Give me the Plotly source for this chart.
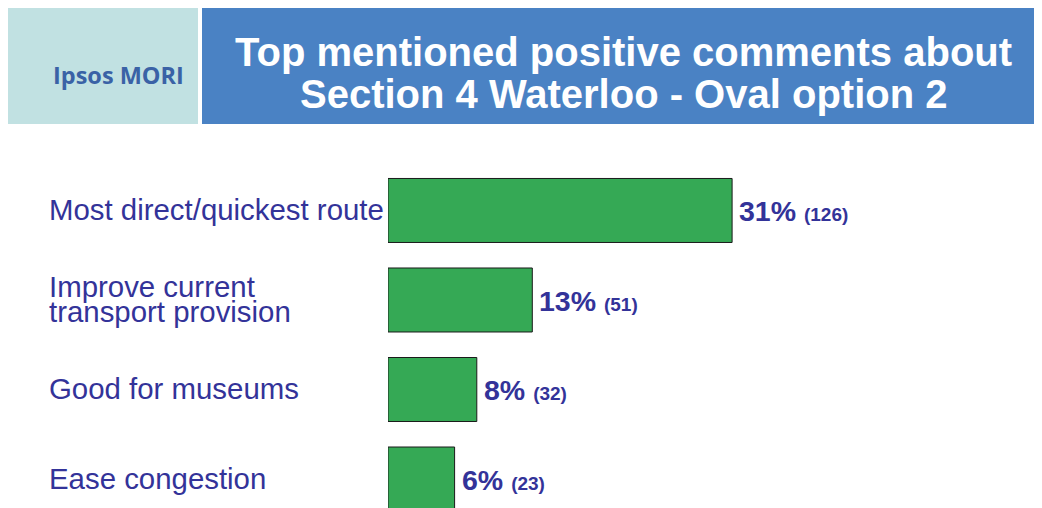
import plotly.graph_objects as go

# --- data ---
categories = ["Most direct/quickest route",
              "Improve current<br>transport provision",
              "Good for museums",
              "Ease congestion"]
percent = [31, 13, 8, 6]
counts = [126, 51, 32, 23]

title_lines = ["Top mentioned positive comments about",
               "Section 4 Waterloo - Oval option 2"]
brand = "Ipsos MORI"

# page body has an 8px margin, so the figure sits at (8, 8) on screen
OFF = 8
W, H = 1042 - OFF, 508 - OFF
TOP = 160  # screen row where the plot area starts

LABEL_BLUE = "#333399"
BAR_GREEN = "#35a955"
FONT = "Liberation Sans, Arial, sans-serif"


def px_x(px):
    return (px - OFF) / W


def px_y(py):
    # paper y for a screen pixel row (plot area spans TOP..bottom)
    return (508 - py) / (508 - TOP)


fig = go.Figure()

fig.add_trace(go.Bar(
    y=categories, x=percent, orientation="h",
    width=0.715,
    marker=dict(color=BAR_GREEN, line=dict(color="#1a1a1a", width=1)),
    hoverinfo="skip", showlegend=False,
))

# value labels at end of bars
for cat, p, n in zip(categories, percent, counts):
    fig.add_annotation(
        x=p, y=cat, xref="x", yref="y",
        text=f"<b>{p}%</b> <b><span style='font-size:19px'>({n})</span></b>",
        showarrow=False, xanchor="left", yanchor="middle", xshift=5, yshift=-1,
        font=dict(family=FONT, size=28.5, color=LABEL_BLUE),
    )

# category labels, left aligned (tight line spacing like the original slide)
for cat in categories:
    lines = cat.split("<br>")
    k = len(lines)
    for i, line in enumerate(lines):
        fig.add_annotation(
            x=px_x(46.5), y=cat, xref="paper", yref="y",
            text=line, showarrow=False, xanchor="left", yanchor="middle",
            yshift=1 + (k - 1) * 12.5 - i * 25,
            font=dict(family=FONT, size=29.4, color=LABEL_BLUE),
        )

# header boxes
fig.add_shape(type="rect", xref="paper", yref="paper",
              x0=px_x(8), x1=px_x(198), y0=px_y(124), y1=px_y(7),
              fillcolor="#c1e1e2", line=dict(width=0), layer="below")
fig.add_shape(type="rect", xref="paper", yref="paper",
              x0=px_x(202), x1=px_x(1042), y0=px_y(124), y1=px_y(7),
              fillcolor="#4a82c4", line=dict(width=0), layer="below")

fig.add_annotation(x=px_x(118), y=px_y(75), xref="paper", yref="paper",
                   text=f"<b>{brand}</b>", showarrow=False,
                   xanchor="center", yanchor="middle",
                   font=dict(family="Open Sans, " + FONT, size=23.5, color="#3a62a6"))

for i, line in enumerate(title_lines):
    fig.add_annotation(x=px_x(623), y=px_y(52 + i * 42), xref="paper", yref="paper",
                       text=f"<b>{line}</b>", showarrow=False,
                       xanchor="center", yanchor="middle",
                       font=dict(family=FONT, size=40, color="white"))

fig.update_xaxes(range=[0, (1042 - 388) / 11.1], domain=[px_x(388), 1],
                 visible=False, fixedrange=True)
fig.update_yaxes(range=[3.324, -0.564], showticklabels=False, showgrid=False,
                 zeroline=False, visible=False, fixedrange=True)

fig.update_layout(
    width=W, height=H,
    margin=dict(l=0, r=0, t=TOP - OFF, b=0),
    paper_bgcolor="white", plot_bgcolor="white",
    showlegend=False,
)

fig.write_html("out.html")
